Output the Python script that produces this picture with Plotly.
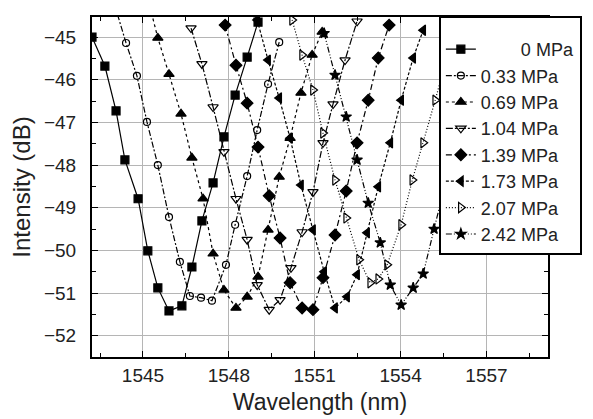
import plotly.graph_objects as go

# ---- data (wavelength nm, intensity dB) ----
labels = ["0 MPa", "0.33 MPa", "0.69 MPa", "1.04 MPa", "1.39 MPa", "1.73 MPa", "2.07 MPa", "2.42 MPa"]

x_000 = [1543.22, 1543.67, 1544.06, 1544.37, 1544.83, 1545.17, 1545.52, 1545.91, 1546.36, 1546.71,
         1547.06, 1547.45, 1547.83, 1548.22, 1548.64, 1549.02]
y_000 = [-45.00, -45.68, -46.73, -47.88, -48.79, -50.01, -50.88, -51.42, -51.30, -50.39,
         -49.31, -48.42, -47.34, -46.36, -45.47, -44.65]

x_033 = [1543.99, 1544.41, 1544.79, 1545.14, 1545.52, 1545.91, 1546.29, 1546.64, 1547.03, 1547.41,
         1547.90, 1548.22, 1548.64, 1548.99, 1549.37, 1549.76]
y_033 = [-44.20, -45.14, -45.91, -46.99, -48.00, -49.22, -50.27, -51.07, -51.11, -51.18,
         -50.34, -49.40, -48.26, -47.18, -46.10, -45.12]

x_069 = [1545.14, 1545.52, 1545.91, 1546.33, 1546.71, 1547.10, 1547.45, 1547.83, 1548.25, 1548.64,
         1549.02, 1549.37, 1549.76, 1550.14, 1550.52, 1550.91, 1551.26]
y_069 = [-44.02, -45.02, -45.87, -46.80, -47.83, -48.79, -50.08, -50.93, -51.35, -51.09,
         -50.62, -49.52, -48.28, -47.37, -46.31, -45.42, -44.88]

x_104 = [1546.68, 1547.06, 1547.45, 1547.83, 1548.25, 1548.64, 1548.99, 1549.41, 1549.79, 1550.17,
         1550.56, 1550.94, 1551.29, 1551.64, 1552.06, 1552.48]
y_104 = [-44.79, -45.63, -46.64, -47.69, -48.79, -49.75, -50.81, -51.39, -51.16, -50.41,
         -49.57, -48.63, -47.48, -46.57, -45.54, -44.63]

x_139 = [1547.87, 1548.25, 1548.64, 1549.02, 1549.41, 1549.79, 1550.14, 1550.56, 1550.94, 1551.29,
         1551.71, 1552.10, 1552.48, 1552.87, 1553.22, 1553.60]
y_139 = [-44.72, -45.66, -46.55, -47.58, -48.72, -49.71, -50.76, -51.35, -51.39, -50.64,
         -49.64, -48.61, -47.48, -46.48, -45.49, -44.72]

x_173 = [1548.99, 1549.37, 1549.76, 1550.14, 1550.52, 1550.94, 1551.33, 1551.71, 1552.13, 1552.48,
         1552.83, 1553.22, 1553.64, 1554.02, 1554.44, 1554.79]
y_173 = [-44.60, -45.54, -46.43, -47.37, -48.47, -49.52, -50.50, -51.35, -51.09, -50.57,
         -49.59, -48.51, -47.48, -46.48, -45.49, -44.84]

x_207 = [1550.21, 1550.56, 1550.94, 1551.29, 1551.71, 1552.10, 1552.55, 1552.94, 1553.22, 1553.53,
         1554.02, 1554.41, 1554.79, 1555.21, 1555.59]
y_207 = [-44.60, -45.42, -46.24, -47.25, -48.35, -49.24, -50.22, -50.76, -50.67, -50.34,
         -49.40, -48.35, -47.48, -46.48, -45.54]

x_242 = [1551.33, 1551.71, 1552.10, 1552.48, 1552.87, 1553.29, 1553.64, 1554.02, 1554.44, 1554.79,
         1555.17, 1555.56, 1555.94]
y_242 = [-44.91, -45.89, -46.87, -47.88, -48.89, -49.82, -50.81, -51.28, -50.88, -50.55,
         -49.50, -48.47, -47.41]

x_ticks = [1545, 1548, 1551, 1554, 1557]
y_ticks = [-45, -46, -47, -48, -49, -50, -51, -52]

# ---- styles ----
xs = [x_000, x_033, x_069, x_104, x_139, x_173, x_207, x_242]
ys = [y_000, y_033, y_069, y_104, y_139, y_173, y_207, y_242]
symbols = ["square", "circle-open", "triangle-up", "triangle-down-open", "diamond",
           "triangle-left", "triangle-right-open", "star"]
sizes = [8, 7, 9, 9, 9, 9, 9, 8]
dashes = ["solid", "6px,2px,2px,2px", "3px,3px", "7px,2px,2px,2px", "6px,3px,2px,3px",
          "3px,2px", "1px,2px", "6px,2px,1px,2px,1px,2px"]

FONT = "Liberation Sans, Arial, sans-serif"
INK = "#222222"

fig = go.Figure()
for i in range(len(labels)):
    name = labels[i]
    if name == "0 MPa":
        name = "\u00a0" * 8 + name
    fig.add_trace(go.Scatter(
        x=xs[i], y=ys[i], mode="lines+markers", name=name,
        line=dict(color="black", width=1.2, dash=dashes[i]),
        marker=dict(symbol=symbols[i], size=sizes[i], color="black",
                    line=dict(color="black", width=1.2)),
    ))

axis_common = dict(
    showline=True, linecolor="black", linewidth=2, mirror="allticks",
    ticks="inside", ticklen=6, tickwidth=1.2, tickcolor="black",
    showgrid=True, gridcolor="#b5b5b5", gridwidth=1,
    zeroline=False,
    tickfont=dict(family=FONT, size=19, color=INK),
)

fig.update_layout(
    width=593, height=419,
    margin=dict(l=92, r=44, t=17, b=62),
    paper_bgcolor="white", plot_bgcolor="white",
    font=dict(family=FONT, color=INK),
    xaxis=dict(
        range=[1543.22, 1559.15], tickvals=x_ticks,
        minor=dict(dtick=1.5, tick0=1545, ticks="inside", ticklen=4, tickcolor="black", showgrid=False),
        title=dict(text="Wavelength (nm)", font=dict(family=FONT, size=23, color=INK), standoff=9),
        ticklabelstandoff=0,
        automargin=False,
        **axis_common,
    ),
    yaxis=dict(
        range=[-52.5, -44.53], tickvals=y_ticks,
        minor=dict(dtick=0.5, tick0=-45, ticks="inside", ticklen=4, tickcolor="black", showgrid=False),
        title=dict(text="Intensity (dB)", font=dict(family=FONT, size=24, color=INK), standoff=7),
        ticklabelstandoff=10,
        automargin=False,
        **axis_common,
    ),
    legend=dict(
        x=0.759, y=1.003, xanchor="left", yanchor="top",
        bgcolor="white", bordercolor="black", borderwidth=2,
        font=dict(family=FONT, size=18, color=INK),
        title=dict(text="\u00a0", font=dict(size=10)),
        itemwidth=30, tracegroupgap=0, maxheight=400,
    ),
    showlegend=True,
)

fig.write_html("out.html", config={"displayModeBar": False},
               post_script="document.body.style.margin='0';")
